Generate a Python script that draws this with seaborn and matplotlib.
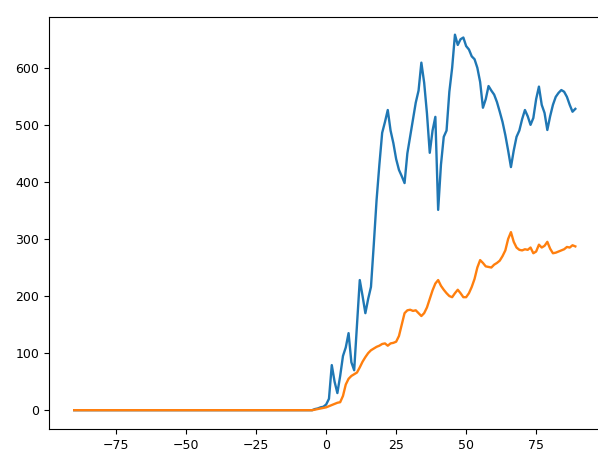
import matplotlib
matplotlib.use("Agg")
import matplotlib.pyplot as plt
import pandas as pd
import seaborn as sns

# Day offsets relative to day 0
days = list(range(-90, 90))

# Daily series (first 90 entries are the days before day 0)
series_a_before = [
    0, 0, 0, 0, 0, 0, 0, 0, 0, 0, 0, 0, 0, 0, 0,
    0, 0, 0, 0, 0, 0, 0, 0, 0, 0, 0, 0, 0, 0, 0,
    0, 0, 0, 0, 0, 0, 0, 0, 0, 0, 0, 0, 0, 0, 0,
    0, 0, 0, 0, 0, 0, 0, 0, 0, 0, 0, 0, 0, 0, 0,
    0, 0, 0, 0, 0, 0, 0, 0, 0, 0, 0, 0, 0, 0, 0,
    0, 0, 0, 0, 0, 0, 0, 0, 0, 0, 0, 2, 3, 5, 6,
]
series_a_after = [
    10, 20, 79, 50, 30, 60, 95, 110, 135, 84,
    70, 150, 228, 200, 170, 195, 216, 290, 368, 430,
    486, 505, 526, 490, 468, 440, 421, 410, 398, 450,
    480, 509, 539, 560, 609, 574, 520, 451, 490, 514,
    351, 430, 479, 490, 558, 600, 658, 640, 650, 653,
    638, 632, 620, 615, 600, 575, 530, 545, 568, 560,
    553, 540, 523, 505, 482, 455, 426, 455, 479, 490,
    510, 526, 515, 500, 512, 545, 567, 535, 521, 491,
    515, 535, 549, 556, 561, 558, 549, 535, 523, 528,
]

series_b_before = [
    0, 0, 0, 0, 0, 0, 0, 0, 0, 0, 0, 0, 0, 0, 0,
    0, 0, 0, 0, 0, 0, 0, 0, 0, 0, 0, 0, 0, 0, 0,
    0, 0, 0, 0, 0, 0, 0, 0, 0, 0, 0, 0, 0, 0, 0,
    0, 0, 0, 0, 0, 0, 0, 0, 0, 0, 0, 0, 0, 0, 0,
    0, 0, 0, 0, 0, 0, 0, 0, 0, 0, 0, 0, 0, 0, 0,
    0, 0, 0, 0, 0, 0, 0, 0, 0, 0, 0, 1, 2, 3, 4,
]
series_b_after = [
    5, 7, 9, 11, 13, 14, 25, 45, 55, 60,
    63, 66, 75, 85, 93, 100, 105, 108, 111, 113,
    116, 117, 113, 117, 118, 120, 130, 150, 170, 175,
    176, 174, 175, 170, 165, 170, 180, 195, 210, 222,
    228, 218, 211, 205, 200, 198, 205, 211, 205, 198,
    198, 205, 216, 230, 250, 263, 258, 252, 251, 250,
    255, 258, 262, 270, 280, 300, 312, 295, 285, 281,
    280, 282, 281, 285, 275, 278, 290, 285, 288, 295,
    283, 275, 276, 278, 280, 282, 286, 285, 289, 287,
]

df = pd.DataFrame({
    "day": days,
    "a": series_a_before + series_a_after,
    "b": series_b_before + series_b_after,
})

fig = plt.figure(figsize=(5.98, 4.68), dpi=100)
ax = fig.add_axes([0.082, 0.0833, 0.94, 0.8804])

palette = sns.color_palette("tab10")
sns.lineplot(data=df, x="day", y="a", ax=ax, color=palette[0], linewidth=1.7)
sns.lineplot(data=df, x="day", y="b", ax=ax, color=palette[1], linewidth=1.7)

ax.set_xlabel("")
ax.set_ylabel("")
ax.set_xticks([-75, -50, -25, 0, 25, 50, 75])
ax.set_yticks([0, 100, 200, 300, 400, 500, 600])
ax.tick_params(labelsize=9)
ax.set_xlim(-99, 101.8)
ax.set_ylim(-33, 689)
ax.spines["right"].set_visible(False)

fig.savefig("out.png", dpi=100)
